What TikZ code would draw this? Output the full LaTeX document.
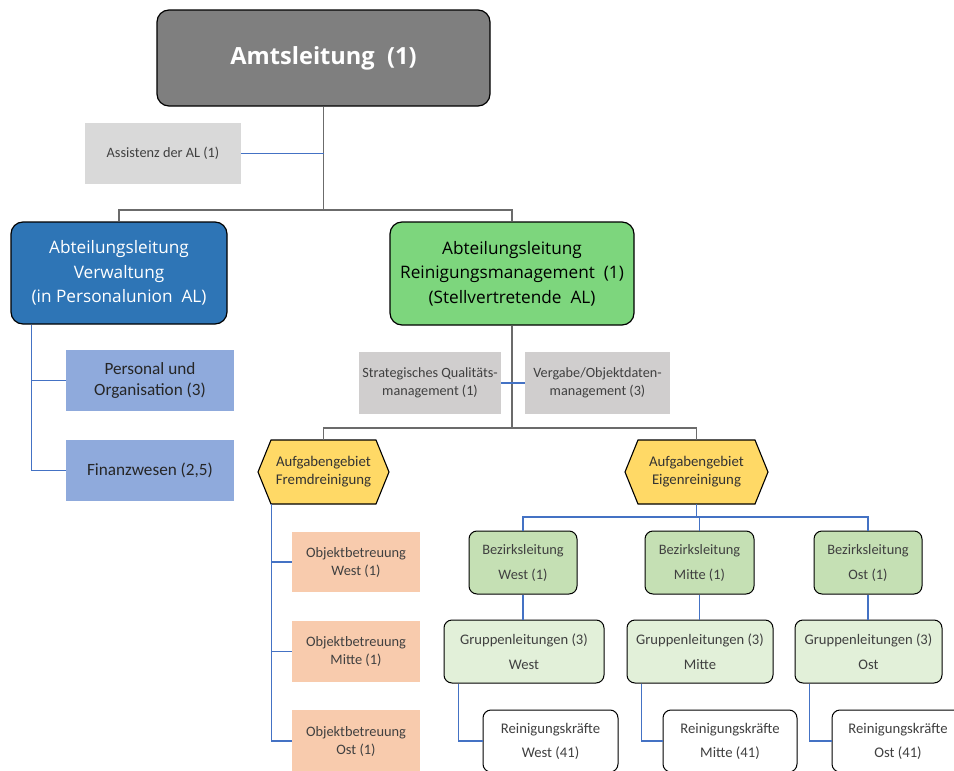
\documentclass[tikz,border=0pt]{standalone}
\usepackage{fontspec}
\setmainfont{Carlito}
\newfontfamily\titlefont{Open Sans}
\usetikzlibrary{calc}
\definecolor{amtgray}{HTML}{7F7F7F}
\definecolor{verwblue}{HTML}{2E75B6}
\definecolor{reingreen}{HTML}{7DD67D}
\definecolor{persblue}{HTML}{8FAADC}
\definecolor{lgray}{HTML}{D9D9D9}
\definecolor{mgray}{HTML}{D0CECE}
\definecolor{hexyellow}{HTML}{FFD966}
\definecolor{objorange}{HTML}{F8CBAD}
\definecolor{bezgreen}{HTML}{C5E0B4}
\definecolor{grpgreen}{HTML}{E2F0D9}
\definecolor{txtgray}{HTML}{404040}
\definecolor{gline}{HTML}{6B6B6B}
\definecolor{bline}{HTML}{4472C4}
\tikzset{
  base/.style={inner sep=0pt, align=center, text=txtgray},
  bigbox/.style={base, draw=black, line width=1.2pt, rounded corners=12pt},
  flatbox/.style={base},
  smallbox/.style={base, draw=black, line width=1pt, rounded corners=8pt},
  hexnode/.style={base, text=black!80, font=\fontsize{14.8}{18}\selectfont},
  grayconn/.style={draw=gline, line width=1.4pt},
  blueconn/.style={draw=bline, line width=1.3pt},
}
\begin{document}
\begin{tikzpicture}[x=1pt,y=-1pt]
\useasboundingbox (0,0) rectangle (954,771);
\clip (0,0) rectangle (954,771);
% top
\node[bigbox, fill=amtgray, text=white, minimum width=333pt, minimum height=96pt, font=\titlefont\bfseries\fontsize{23.6}{28}\selectfont] (amt) at (323.5,58) {Amtsleitung\ \ (1)};
\node[flatbox, fill=lgray, minimum width=156pt, minimum height=61pt, font=\fontsize{14.3}{17}\selectfont] (assist) at (163,153.5) {Assistenz der AL (1)};
\node[bigbox, fill=verwblue, text=white, minimum width=216pt, minimum height=102pt, font=\titlefont\fontsize{17.2}{24.5}\selectfont] (verw) at (119,273) {Abteilungsleitung\\Verwaltung\\(in Personalunion\ \ AL)};
\node[bigbox, fill=reingreen, text=black, minimum width=244pt, minimum height=103pt, font=\titlefont\fontsize{17.2}{24.5}\selectfont] (rein) at (512,273.5) {Abteilungsleitung\\Reinigungsmanagement\ \ (1)\\(Stellvertretende\ \ AL)};
% Verwaltung children
\node[flatbox, fill=persblue, text=black!85, minimum width=168pt, minimum height=61pt, font=\fontsize{17.2}{21}\selectfont] (pers) at (150,380.5) {Personal und\\Organisation (3)};
\node[flatbox, fill=persblue, text=black!85, minimum width=168pt, minimum height=61pt, font=\fontsize{17.2}{21}\selectfont] (fin) at (150,470.5) {Finanzwesen (2,5)};
% Reinigung staff
\node[flatbox, fill=mgray, minimum width=142pt, minimum height=62pt, font=\fontsize{14.2}{18}\selectfont] (strat) at (430,383) {Strategisches Qualitäts-\\management (1)};
\node[flatbox, fill=mgray, minimum width=145pt, minimum height=62pt, font=\fontsize{14.2}{18}\selectfont] (verg) at (597.5,383) {Vergabe/Objektdaten-\\management (3)};
% hexagons
\coordinate (fremdc) at (323.5,472);
\coordinate (eigenc) at (696.5,472);
\path[fill=hexyellow, draw=black, line width=1.1pt] ($(fremdc)+(-52.5,-32)$) -- ($(fremdc)+(52.5,-32)$) -- ($(fremdc)+(65.5,0)$) -- ($(fremdc)+(52.5,32)$) -- ($(fremdc)+(-52.5,32)$) -- ($(fremdc)+(-65.5,0)$) -- cycle;
\path[fill=hexyellow, draw=black, line width=1.1pt] ($(eigenc)+(-58.5,-32)$) -- ($(eigenc)+(58.5,-32)$) -- ($(eigenc)+(71.5,0)$) -- ($(eigenc)+(58.5,32)$) -- ($(eigenc)+(-58.5,32)$) -- ($(eigenc)+(-71.5,0)$) -- cycle;
\node[hexnode, minimum width=131pt, minimum height=64pt] (fremd) at (fremdc) {Aufgabengebiet\\Fremdreinigung};
\node[hexnode, minimum width=143pt, minimum height=64pt] (eigen) at (eigenc) {Aufgabengebiet\\Eigenreinigung};
% Objektbetreuung
\node[flatbox, fill=objorange, minimum width=128pt, minimum height=60pt, font=\fontsize{14.4}{18}\selectfont] (objW) at (356,562) {Objektbetreuung\\West (1)};
\node[flatbox, fill=objorange, minimum width=128pt, minimum height=61pt, font=\fontsize{14.4}{18}\selectfont] (objM) at (356,651.5) {Objektbetreuung\\Mitte (1)};
\node[flatbox, fill=objorange, minimum width=128pt, minimum height=62pt, font=\fontsize{14.4}{18}\selectfont] (objO) at (356,741) {Objektbetreuung\\Ost (1)};
% Bezirksleitung
\tikzset{bez/.style={smallbox, fill=bezgreen, minimum width=108pt, minimum height=63pt, font=\fontsize{14.4}{25}\selectfont},
         grp/.style={smallbox, fill=grpgreen, minimum height=63pt, font=\fontsize{14.6}{25}\selectfont},
         rk/.style={smallbox, fill=white, minimum height=62pt, font=\fontsize{14.7}{24}\selectfont}}
\node[bez] (bezW) at (523,562.5) {Bezirksleitung\\West (1)};
\node[bez, minimum width=109pt] (bezM) at (699.5,562.5) {Bezirksleitung\\Mitte (1)};
\node[bez] (bezO) at (868,562.5) {Bezirksleitung\\Ost (1)};
\node[grp, minimum width=160pt] (grpW) at (524,651.5) {Gruppenleitungen (3)\\West};
\node[grp, minimum width=146pt] (grpM) at (700,651.5) {Gruppenleitungen (3)\\Mitte};
\node[grp, minimum width=147pt] (grpO) at (868.5,651.5) {Gruppenleitungen (3)\\Ost};
\node[rk, minimum width=135pt] (rkW) at (550.5,741) {Reinigungskräfte\\West (41)};
\node[rk, minimum width=134pt] (rkM) at (730,741) {Reinigungskräfte\\Mitte (41)};
\node[rk, minimum width=132pt] (rkO) at (898,741) {Reinigungskräfte\\Ost (41)};
% connectors
\coordinate (j1) at (amt.south |- 0,210);
\draw[grayconn] (amt.south) -- (j1);
\draw[grayconn] (verw.north) |- (j1) -| (rein.north);
\draw[blueconn] (assist.east) -- (assist.east -| amt.south);
\coordinate (vtrunk) at ($(verw.south west)+(21,0)$);
\draw[blueconn] (vtrunk) |- (pers.west);
\draw[blueconn] (vtrunk) |- (fin.west);
\coordinate (j2) at (rein.south |- 0,428);
\draw[grayconn] (rein.south) -- (j2);
\draw[grayconn] (fremd.north) |- (j2) -| (eigen.north);
\draw[blueconn] (strat.east) -- (verg.west);
\coordinate (ftrunk) at ($(fremd.south west)+(14,0)$);
\draw[blueconn] (ftrunk) |- (objW.west);
\draw[blueconn] (ftrunk) |- (objM.west);
\draw[blueconn] (ftrunk) |- (objO.west);
\coordinate (j3) at (eigen.south |- 0,517);
\draw[blueconn] (eigen.south) -- (j3);
\draw[blueconn] (bezW.north) |- (j3) -| (bezO.north);
\draw[blueconn] (bezM.north) -- (bezM.north |- j3);
\draw[blueconn] (bezW.south) -- (bezW.south |- grpW.north);
\draw[blueconn] (bezM.south) -- (bezM.south |- grpM.north);
\draw[blueconn] (bezO.south) -- (bezO.south |- grpO.north);
\draw[blueconn] ($(grpW.south west)+(15,0)$) |- (rkW.west);
\draw[blueconn] ($(grpM.south west)+(15,0)$) |- (rkM.west);
\draw[blueconn] ($(grpO.south west)+(15,0)$) |- (rkO.west);
\end{tikzpicture}
\end{document}
